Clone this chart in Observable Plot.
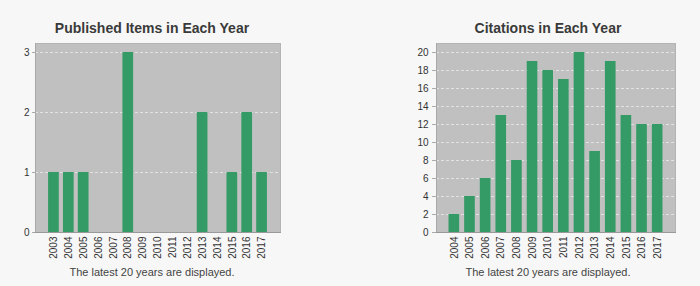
<!DOCTYPE html>
<html>
<head>
<meta charset="utf-8">
<script src="https://cdn.jsdelivr.net/npm/d3@7"></script>
<script src="https://cdn.jsdelivr.net/npm/@observablehq/plot@0.6"></script>
<style>
  html, body { margin: 0; padding: 0; background: #f7f7f7; width: 700px; height: 286px; overflow: hidden; font-family: "Liberation Sans", Arial, sans-serif; }
  .title { position: absolute; font-weight: bold; font-size: 14px; color: #3a3a3a; text-align: center; white-space: nowrap; }
  .caption { position: absolute; font-size: 11px; color: #444; text-align: center; white-space: nowrap; }
  .chart { position: absolute; }
</style>
</head>
<body>
<div class="title" style="left:2px;width:300px;top:20px;">Published Items in Each Year</div>
<div class="title" style="left:398px;width:300px;top:20px;">Citations in Each Year</div>
<div id="left" class="chart" style="left:0;top:40px;"></div>
<div id="right" class="chart" style="left:350px;top:40px;"></div>
<div class="caption" style="left:2px;width:300px;top:266px;">The latest 20 years are displayed.</div>
<div class="caption" style="left:398px;width:300px;top:266px;">The latest 20 years are displayed.</div>
<script>
const pubYears = ["2003","2004","2005","2006","2007","2008","2009","2010","2011","2012","2013","2014","2015","2016","2017"];
const pubValues = [1,1,1,0,0,3,0,0,0,0,2,0,1,2,1];
const pubTicks = [0,1,2,3];

const citYears = ["2004","2005","2006","2007","2008","2009","2010","2011","2012","2013","2014","2015","2016","2017"];
const citValues = [2,4,6,13,8,19,18,17,20,9,19,13,12,12];
const citTicks = [0,2,4,6,8,10,12,14,16,18,20];

function makeChart(years, values, ticks, yMax, opts) {
  const data = years.map((y, i) => ({year: y, value: values[i]}));
  return Plot.plot({
    width: 350,
    height: 225,
    marginLeft: opts.ml,
    marginRight: opts.mr,
    marginTop: 3,
    marginBottom: 33,
    style: {background: "transparent", fontFamily: "'Liberation Sans', Arial, sans-serif", fontSize: "10px", color: "#333"},
    x: {domain: years, paddingInner: opts.pi, paddingOuter: opts.po, round: false, label: null},
    y: {domain: [0, yMax], label: null},
    marks: [
      Plot.frame({fill: "#c0c0c0", stroke: null}),
      Plot.ruleY(ticks.filter(t => t > 0), {stroke: "#e2e2e2", strokeDasharray: "3,2", strokeWidth: 1}),
      Plot.barY(data, {x: "year", y: "value", fill: "#349a66"}),
      Plot.frame({anchor: "right", stroke: "#b4b4b4"}),
      Plot.frame({anchor: "top", stroke: "#b4b4b4"}),
      Plot.frame({anchor: "left", stroke: "#a8a8a8"}),
      Plot.frame({anchor: "bottom", stroke: "#999"}),
      Plot.axisX({tickRotate: -90, tickSize: 0, tickPadding: 4, label: null, fontSize: 10, fill: "#333"}),
      Plot.axisY({ticks: ticks, tickFormat: d3.format("d"), tickSize: opts.ts, tickPadding: opts.tp, label: null, fontSize: 10, fill: "#333", stroke: "#aaa"})
    ]
  });
}

document.getElementById("left").append(makeChart(pubYears, pubValues, pubTicks, 3.15, {ml: 35, mr: 70, pi: 0.28, po: 0.88, ts: 3, tp: 3}));
document.getElementById("right").append(makeChart(citYears, citValues, citTicks, 21, {ml: 86, mr: 25, pi: 0.32, po: 0.8, ts: 4, tp: 4}));
</script>
</body>
</html>
